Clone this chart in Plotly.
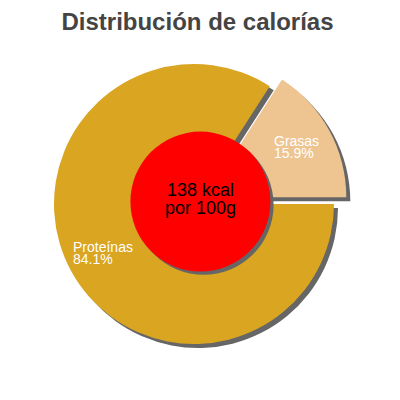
import plotly.graph_objects as go

# data
labels = ["Grasas", "Proteínas"]
values = [15.9, 84.1]
colors = ["#EEC591", "#DAA520"]
kcal = 138
center_text = ["%d kcal" % kcal, "por 100g"]

title = "Distribución de calorías"

pull = [0.1, 0]
rot = 90 - 360 * values[0] / 100.0

# page body has an 8px margin, so everything is placed 8px up/left
dom_x = [0.08, 0.85]
dom_y = [0.125, 0.895]
sh = 0.01  # shadow shift (4px)

fig = go.Figure()

# shadow pie
fig.add_trace(go.Pie(
    labels=labels, values=values, sort=False, direction="clockwise", rotation=rot,
    pull=pull, textinfo="none", hoverinfo="skip", showlegend=False,
    marker=dict(colors=["#666666", "#666666"], line=dict(width=0)),
    domain=dict(x=[dom_x[0] + sh, dom_x[1] + sh], y=[dom_y[0] - sh, dom_y[1] - sh]),
))

# main pie
fig.add_trace(go.Pie(
    labels=labels, values=values, sort=False, direction="clockwise", rotation=rot,
    pull=pull, textinfo="none", showlegend=False,
    marker=dict(colors=colors, line=dict(width=0)),
    domain=dict(x=dom_x, y=dom_y),
))

# red centre with its shadow
cx0, cx1, cy0, cy1 = 0.306, 0.656, 0.341, 0.691
fig.add_shape(type="circle", xref="paper", yref="paper",
              x0=cx0 + 0.008, x1=cx1 + 0.008, y0=cy0 - 0.008, y1=cy1 - 0.008,
              fillcolor="#666666", line=dict(width=0))
fig.add_shape(type="circle", xref="paper", yref="paper",
              x0=cx0, x1=cx1, y0=cy0, y1=cy1,
              fillcolor="#FF0000", line=dict(width=0))

for txt, yy in zip(center_text, [182, 200]):
    fig.add_annotation(x=192 / 400.0, y=1 - yy / 400.0, xref="paper", yref="paper",
                       text=txt, showarrow=False,
                       font=dict(family="Liberation Sans, Arial", size=18, color="black"))

# slice labels
lab_pos = [(264, 133, 144.5), (63, 239, 251)]
for i in range(len(labels)):
    lx, ly1, ly2 = lab_pos[i]
    for txt, yy in [(labels[i], ly1), ("%.1f%%" % values[i], ly2)]:
        fig.add_annotation(x=lx / 400.0, y=1 - yy / 400.0, xref="paper", yref="paper",
                           xanchor="left", yanchor="middle", text=txt, showarrow=False,
                           font=dict(family="Liberation Sans, Arial", size=14, color="white"))

fig.update_layout(
    width=400, height=400,
    margin=dict(l=0, r=0, t=0, b=0),
    paper_bgcolor="white", plot_bgcolor="white",
    title=dict(text="<b>" + title + "</b>", x=189.5 / 400.0, xanchor="center",
               y=1 - 14 / 400.0, yanchor="middle", yref="container",
               font=dict(family="Liberation Sans, Arial", size=24, color="#444444")),
)

fig.write_html("out.html")
